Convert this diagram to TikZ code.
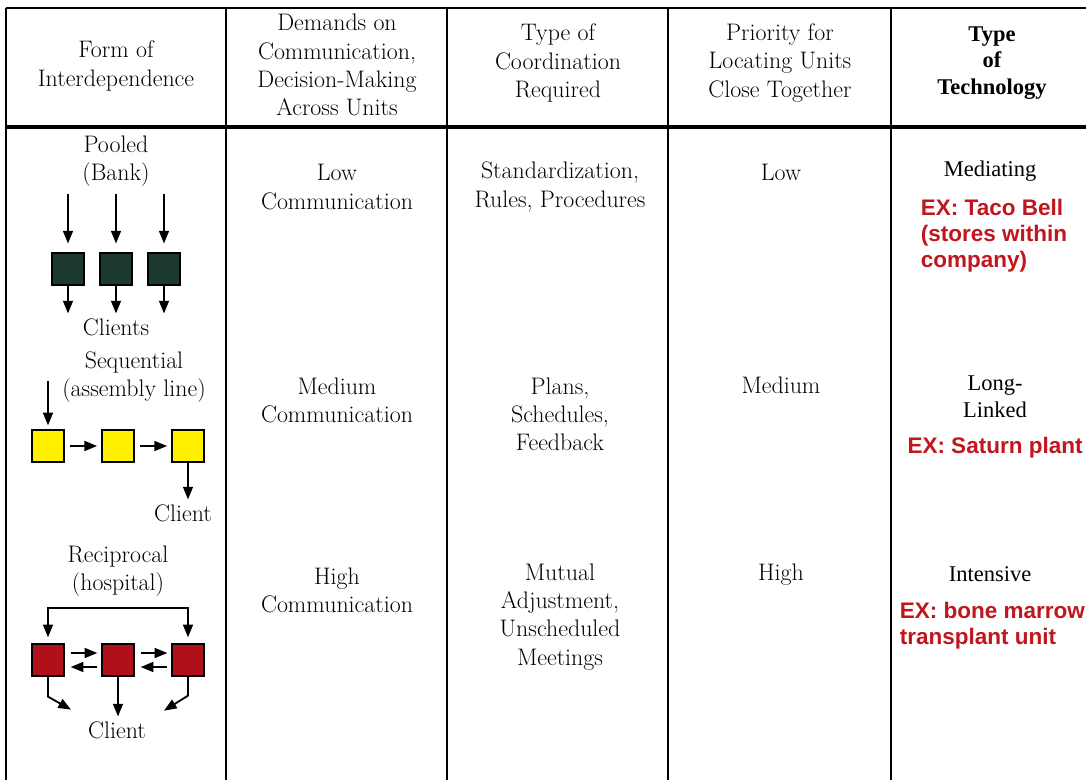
\documentclass[tikz,border=0pt]{standalone}
\usepackage{fontspec}
\newfontfamily\techfont{Liberation Serif}
\newfontfamily\exfont{Liberation Sans}
\usetikzlibrary{arrows.meta}
\definecolor{poolgreen}{RGB}{28,58,50}
\definecolor{seqyellow}{RGB}{255,240,0}
\definecolor{recred}{RGB}{176,16,26}
\definecolor{exred}{RGB}{192,22,30}
\tikzset{
  rule/.style={line width=1.3pt},
  cell/.style={align=center, font=\fontsize{17}{20}\selectfont},
  techcell/.style={align=center, font=\techfont\fontsize{16}{19}\selectfont},
  excell/.style={align=left, text=exred, font=\exfont\bfseries\fontsize{16}{18.5}\selectfont},
  unit/.style={draw=black, line width=0.9pt, minimum size=0.8cm, inner sep=0pt},
  arr/.style={-{Triangle[length=9pt,width=7pt]}, line width=1.3pt},
  twoarr/.style={{Triangle[length=9pt,width=7pt]}-{Triangle[length=9pt,width=7pt]}, line width=1.3pt}
}
\begin{document}
\begin{tikzpicture}[x=0.025cm, y=-0.025cm]
\useasboundingbox (0,0) rectangle (1086,780);
% Table rules
\draw[rule] (6,8) -- (1086,8);
\draw[line width=2.6pt] (6,127) -- (1086,127);
\draw[rule] (6,8) -- (6,780);
\foreach \x in {226,447,668,891}
  \draw[rule] (\x,8) -- (\x,780);
% Header row
\node[cell] (hform) at (116,66) {Form of\\Interdependence};
\node[cell] (hdemand) at (337,65) {Demands on\\Communication,\\Decision-Making\\Across Units};
\node[cell] (hcoord) at (558,63) {Type of\\Coordination\\Required};
\node[cell] (hprio) at (780,63) {Priority for\\Locating Units\\Close Together};
\node[techcell, font=\techfont\bfseries\fontsize{16}{19}\selectfont] (htech) at (992,63) {Type\\of\\Technology};
% Pooled
\node[cell] (pooled) at (116,161) {Pooled\\(Bank)};
\node[unit, fill=poolgreen] (p1) at (68,269) {};
\node[unit, fill=poolgreen] (p2) at (116,269) {};
\node[unit, fill=poolgreen] (p3) at (164,269) {};
\node[cell] (clients) at (116,327) {Clients};
\foreach \u in {p1,p2,p3} {
  \draw[arr] ([yshift=1.45cm]\u.north) -- ([yshift=0.22cm]\u.north);
  \draw[arr] (\u.south) -- (\u.south |- clients.north);
}
% Sequential
\node[cell] (seq) at (134,377) {Sequential\\(assembly line)};
\node[unit, fill=seqyellow] (s1) at (48,446) {};
\node[unit, fill=seqyellow] (s2) at (118,446) {};
\node[unit, fill=seqyellow] (s3) at (188,446) {};
\node[cell] (client1) at (183,513) {Client};
\draw[arr] ([yshift=1.2cm]s1.north) -- ([yshift=0.1cm]s1.north);
\draw[arr, shorten <=4pt, shorten >=3pt] (s1.east) -- (s2.west);
\draw[arr, shorten <=4pt, shorten >=3pt] (s2.east) -- (s3.west);
\draw[arr] (s3.south) -- (s3.south |- client1.north);
% Reciprocal
\node[cell] (recip) at (118,571) {Reciprocal\\(hospital)};
\node[unit, fill=recred] (r1) at (48,660) {};
\node[unit, fill=recred] (r2) at (118,660) {};
\node[unit, fill=recred] (r3) at (188,660) {};
\node[cell] (client2) at (117,730) {Client};
\draw[twoarr] ([yshift=0.15cm]r1.north) -- ++(0,-29) -| ([yshift=0.15cm]r3.north);
\draw[arr] ([shift={(6,-7)}]r1.east) -- ([shift={(-4,-7)}]r2.west);
\draw[arr] ([shift={(-4,7)}]r2.west) -- ([shift={(6,7)}]r1.east);
\draw[arr] ([shift={(6,-7)}]r2.east) -- ([shift={(-4,-7)}]r3.west);
\draw[arr] ([shift={(-4,7)}]r3.west) -- ([shift={(6,7)}]r2.east);
\draw[arr] (r1.south) -- ++(0,20) -- ++(23,13);
\draw[arr] (r2.south) -- (r2.south |- client2.north);
\draw[arr] (r3.south) -- ++(0,19) -- ++(-24,15);
% Demands column
\node[cell] (dlow) at (337,187) {Low\\Communication};
\node[cell] (dmed) at (337,400) {Medium\\Communication};
\node[cell] (dhigh) at (337,590) {High\\Communication};
% Coordination column
\node[cell] (clow) at (560,187) {Standardization,\\Rules, Procedures};
\node[cell] (cmed) at (560,414) {Plans,\\Schedules,\\Feedback};
\node[cell] (chigh) at (560,617) {Mutual\\Adjustment,\\Unscheduled\\Meetings};
% Priority column
\node[cell] (plow) at (781,172) {Low};
\node[cell] (pmed) at (781,385) {Medium};
\node[cell] (phigh) at (781,575) {High};
% Technology column
\node[techcell] (tmed) at (990,171) {Mediating};
\node[excell, anchor=west] (ex1) at (916,236) {EX: Taco Bell\\(stores within\\company)};
\node[techcell] (tlong) at (995,397) {Long-\\Linked};
\node[excell] (ex2) at (995,448) {EX: Saturn plant};
\node[techcell] (tint) at (990,574) {Intensive};
\node[excell, anchor=west] (ex3) at (895,626) {EX: bone marrow\\transplant unit};
\end{tikzpicture}
\end{document}
